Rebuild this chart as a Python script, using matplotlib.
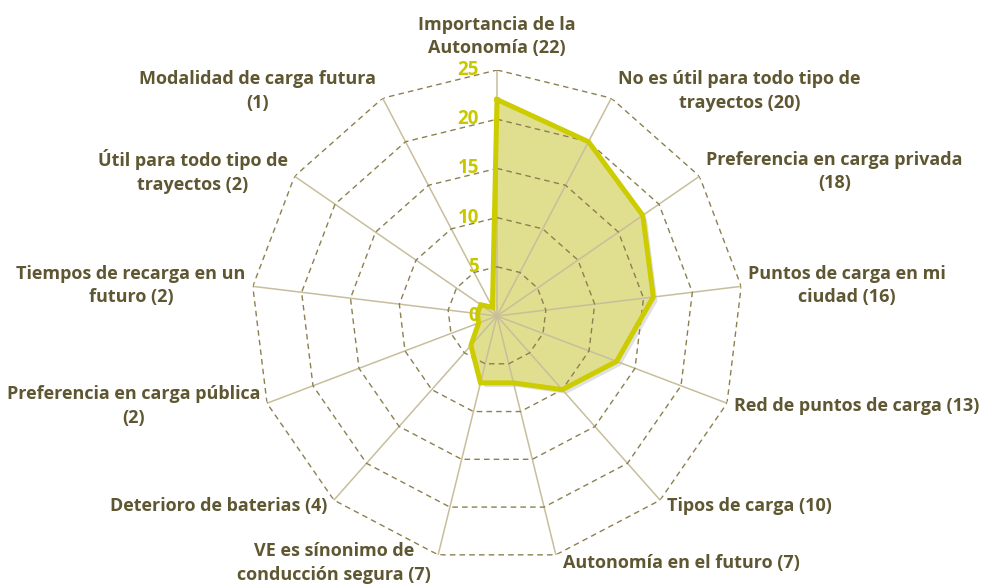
import numpy as np
import matplotlib
matplotlib.use("Agg")
import matplotlib.pyplot as plt
import matplotlib.patheffects as pe

categories = [
    "Importancia de la\nAutonomía",
    "No es útil para todo tipo de\ntrayectos",
    "Preferencia en carga privada\n",
    "Puntos de carga en mi\nciudad",
    "Red de puntos de carga",
    "Tipos de carga",
    "Autonomía en el futuro",
    "VE es sínonimo de\nconducción segura",
    "Deterioro de baterias",
    "Preferencia en carga pública\n",
    "Tiempos de recarga en un\nfuturo",
    "Útil para todo tipo de\ntrayectos",
    "Modalidad de carga futura\n",
]
values = [22, 20, 18, 16, 13, 10, 7, 7, 4, 2, 2, 2, 1]
ring_values = [5, 10, 15, 20, 25]
tick_labels = [0, 5, 10, 15, 20, 25]

text_color = "#5E5732"
line_color = "#CCCC00"
fill_color = "#E0DF8F"
tick_color = "#C8C800"
spoke_color = "#C8BE9C"
ring_color = "#8C8050"

plt.rcParams["font.family"] = ["Open Sans", "DejaVu Sans"]
plt.rcParams["font.weight"] = "bold"

n = len(categories)
theta = np.arange(n) * 2 * np.pi / n
theta_c = np.append(theta, theta[0])

fig = plt.figure(figsize=(9.88, 5.88), dpi=100)
cx, cy, R = 497, 316, 246
ax = fig.add_axes([(cx - R) / 988, (588 - cy - R) / 588, 2 * R / 988, 2 * R / 588],
                  projection="polar")
ax.set_theta_offset(np.pi / 2)
ax.set_theta_direction(-1)
ax.set_ylim(0, 25)
ax.grid(False)
ax.set_xticks([])
ax.set_yticks([])
ax.spines["polar"].set_visible(False)
ax.patch.set_alpha(0)

# spokes
for t in theta:
    ax.plot([t, t], [0, 25], color=spoke_color, lw=1.1, zorder=2)

# dashed polygon rings
for r in ring_values:
    ax.plot(theta_c, [r] * (n + 1), color=ring_color, lw=1.0,
            ls=(0, (4, 3)), zorder=2)

# data
vals_c = values + [values[0]]
ax.fill(theta_c, vals_c, color=fill_color, zorder=1,
        path_effects=[pe.SimplePatchShadow(offset=(3, -3), shadow_rgbFace="#999999", alpha=0.3),
                      pe.Normal()])
ax.plot(theta_c, vals_c, color=line_color, lw=3.6, zorder=3, solid_joinstyle="miter")

# radial tick labels
for v in tick_labels:
    ax.annotate(str(v), xy=(0, v), xytext=(-13, 0), textcoords="offset points",
                ha="right", va="center", color=tick_color, fontsize=13.5,
                fontweight="bold", zorder=4, annotation_clip=False)

# category labels
for t, name, v in zip(theta, categories, values):
    label = f"{name} ({v})" if not name.endswith("\n") else f"{name}({v})"
    deg = np.degrees(t)
    dy = 6 * np.cos(t)
    if deg < 1:
        ha, va, off = "center", "bottom", (0, 9)
    elif deg < 179:
        ha, va, off = "left", "center", (5, dy)
    else:
        ha, va, off = "right", "center", (-5, dy)
    ax.annotate(label, xy=(t, 25), xytext=off, textcoords="offset points",
                ha=ha, va=va, multialignment="center", color=text_color,
                fontsize=13, fontweight="bold", linespacing=1.4,
                annotation_clip=False)

fig.savefig("out.png", dpi=100)
